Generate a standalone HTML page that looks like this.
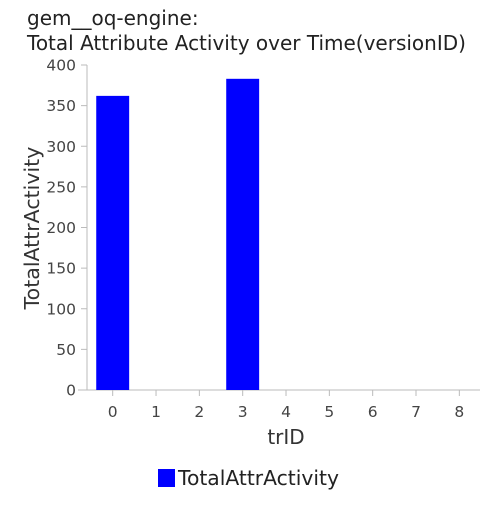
<!DOCTYPE html>
<html><head><meta charset="utf-8"><style>
body{margin:0;background:#fff;}
svg text{font-family:"DejaVu Sans","Liberation Sans",sans-serif;}
</style></head><body>
<svg width="500" height="500" id="chart">
<text x="27" y="25" font-size="20" fill="#222">gem__oq-engine:</text>
<text x="27" y="50" font-size="20" fill="#222">Total Attribute Activity over Time(versionID)</text>
<g id="plot"></g>
<text x="286" y="444" font-size="20" fill="#333" text-anchor="middle">trID</text>
<text transform="translate(39,228) rotate(-90)" font-size="20.5" fill="#333" text-anchor="middle">TotalAttrActivity</text>
<g>
<rect x="158" y="469" width="17" height="18" fill="#0000ff"></rect>
<text x="178" y="485" font-size="20.3" fill="#222">TotalAttrActivity</text>
</g>
</svg>
<script>
const categories=[0,1,2,3,4,5,6,7,8];
const values=[362,0,0,383,0,0,0,0,0];
const yTicks=[0,50,100,150,200,250,300,350,400];
const NS="http://www.w3.org/2000/svg";
const g=document.getElementById('plot');
const x0=112.7,step=43.33,y0=390,yTop=65,yMax=400;
const xs=i=>x0+i*step;
const ys=v=>y0-(v/yMax)*(y0-yTop);
function mk(t,a){const e=document.createElementNS(NS,t);for(const k in a)e.setAttribute(k,a[k]);g.appendChild(e);return e;}
let ax=mk('line',{x1:87,y1:yTop,x2:87,y2:y0,stroke:'#bbb'});


let bx=mk('line',{x1:78,y1:y0,x2:480,y2:y0,stroke:'#bbb'});


yTicks.forEach(v=>{
 const y=ys(v);
 let t=mk('line',{x1:81,y1:y,x2:87,y2:y,stroke:'#bbb'});
 
 
 let l=mk('text',{x:76,y:y+5.5,'font-size':15.5,fill:'#444','text-anchor':'end'});
 l.textContent=v;
 
 
});
categories.forEach((c,i)=>{
 const x=xs(i);
 let t=mk('line',{x1:x,y1:y0,x2:x,y2:y0+6,stroke:'#bbb'});
 
 
 let l=mk('text',{x:x,y:417,'font-size':15.5,fill:'#444','text-anchor':'middle'});
 l.textContent=c;
 
 
 if(values[i]>0){
  const w=step*0.76;
  let b=mk('rect',{x:x-w/2,y:ys(values[i]),width:w,height:y0-ys(values[i]),fill:'#0000ff'});
  
  
 }
});
</script>
</body></html>
